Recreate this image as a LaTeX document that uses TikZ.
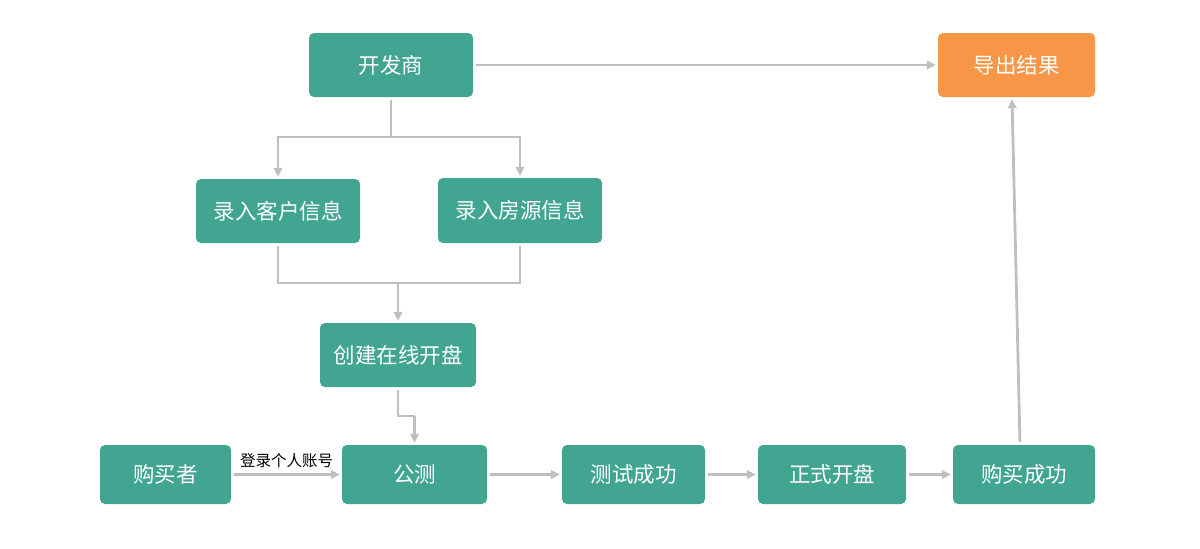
\documentclass[tikz,border=0pt]{standalone}
\usepackage{fontspec}
\setmainfont{Noto Sans CJK SC}
\usetikzlibrary{arrows.meta}
\definecolor{teal1}{HTML}{42A592}
\definecolor{orange1}{HTML}{F79646}
\definecolor{line1}{HTML}{BFBFBF}
\tikzset{
  box/.style={fill=teal1, rounded corners=5pt, text=white, font=\fontsize{21.5}{24}\selectfont, inner sep=0pt, anchor=center},
  obox/.style={box, fill=orange1},
  conn/.style={draw=line1, line width=2.8pt, -{Triangle[length=9pt,width=8.5pt]}},
  plain/.style={draw=line1, line width=2.8pt},
}
\begin{document}
\begin{tikzpicture}[x=1pt,y=-1pt]
\useasboundingbox (0,0) rectangle (1200,549);
\node[box, minimum width=164pt, minimum height=64pt] (dev) at (391,65) {开发商};
\node[obox, minimum width=157pt, minimum height=64pt] (out) at (1016.5,65) {导出结果};
\node[box, minimum width=164pt, minimum height=64pt] (cust) at (278,211) {录入客户信息};
\node[box, minimum width=164pt, minimum height=65pt] (house) at (520,210.5) {录入房源信息};
\node[box, minimum width=156pt, minimum height=64pt] (create) at (398,355) {创建在线开盘};
\node[box, minimum width=131pt, minimum height=59pt] (buyer) at (165.5,474.5) {购买者};
\node[box, minimum width=145pt, minimum height=59pt] (pub) at (414.5,474.5) {公测};
\node[box, minimum width=143pt, minimum height=59pt] (test) at (633.5,474.5) {测试成功};
\node[box, minimum width=148pt, minimum height=59pt] (open) at (832,474.5) {正式开盘};
\node[box, minimum width=142pt, minimum height=59pt] (succ) at (1024,474.5) {购买成功};

\coordinate (j1) at (391,137);
\coordinate (j2) at (398,283);
\coordinate (j3) at (398,416);
\coordinate (j4) at (414.5,416);

% developer to export
\draw[conn, shorten <=3pt, shorten >=2pt] (dev.east) -- (out.west);
% developer split
\draw[plain, shorten <=3pt] (dev.south) -- (j1);
\draw[conn, shorten >=2pt] (j1) -| (cust.north);
\draw[conn, shorten >=2pt] (j1) -| (house.north);
% merge
\draw[plain, shorten <=3pt] (cust.south) |- (j2);
\draw[plain, shorten <=3pt] (house.south) |- (j2);
\draw[conn, shorten >=2pt] (j2) -- (create.north);
% create to pub
\draw[plain, shorten <=3pt] (create.south) -- (j3) -- (j4);
\draw[conn, shorten >=2pt] (j4) -- (pub.north);
% bottom row
\draw[conn, shorten <=3pt, shorten >=2pt] (buyer.east) -- node[above=2pt, text=black, font=\fontsize{15.5}{18}\selectfont] (lbl) {登录个人账号} (pub.west);
\draw[conn, shorten <=3pt, shorten >=2pt] (pub.east) -- (test.west);
\draw[conn, shorten <=3pt, shorten >=2pt] (test.east) -- (open.west);
\draw[conn, shorten <=3pt, shorten >=2pt] (open.east) -- (succ.west);
% success to export
\draw[conn, shorten <=3pt, shorten >=2pt] ([xshift=-4pt]succ.north) -- ([xshift=-4.5pt]out.south);
\end{tikzpicture}
\end{document}
